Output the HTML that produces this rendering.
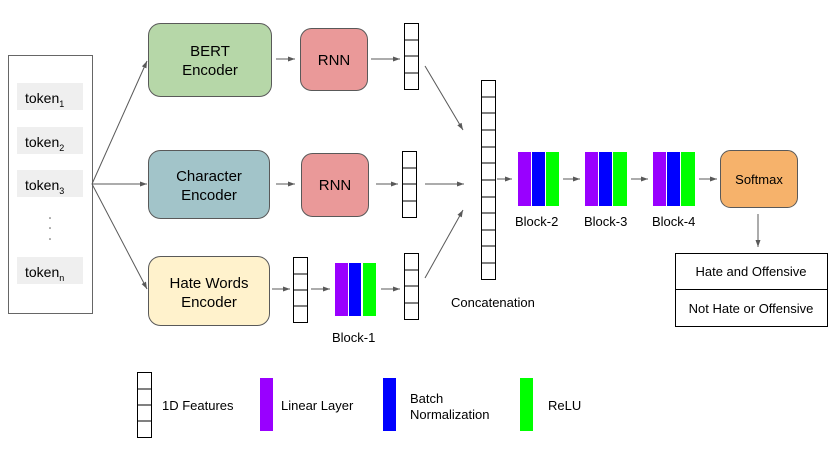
<!DOCTYPE html>
<html><head><meta charset="utf-8"><style>
html,body{margin:0;padding:0;background:#fff}
svg{display:block}
text{font-family:"Liberation Sans",Arial,sans-serif;fill:#000}
</style></head><body>
<svg width="830" height="467" viewBox="0 0 830 467" xmlns="http://www.w3.org/2000/svg">
<defs>
<marker id="a" markerWidth="8" markerHeight="8" refX="7" refY="4" orient="auto" markerUnits="userSpaceOnUse">
<path d="M0,1.5 L7,4 L0,6.5 z" fill="#595959"/></marker>
</defs>
<!-- token box -->
<rect x="8.5" y="55.5" width="84" height="258" fill="#fff" stroke="#666" stroke-width="1"/>
<g fill="#efefef">
<rect x="17" y="83" width="66" height="27"/><rect x="17" y="127" width="66" height="27"/>
<rect x="17" y="170" width="66" height="27"/><rect x="17" y="257" width="66" height="27"/></g>
<g font-size="14">
<text x="25" y="103">token<tspan font-size="9" dy="4">1</tspan></text>
<text x="25" y="147">token<tspan font-size="9" dy="4">2</tspan></text>
<text x="25" y="190">token<tspan font-size="9" dy="4">3</tspan></text>
<text x="25" y="277">token<tspan font-size="9" dy="4">n</tspan></text>
</g>
<g fill="#555"><circle cx="50" cy="218" r="0.8"/><circle cx="50" cy="228" r="0.8"/><circle cx="50" cy="239" r="0.8"/></g>
<!-- arrows from tokens -->
<g stroke="#595959" stroke-width="1" fill="none" marker-end="url(#a)">
<line x1="92" y1="184" x2="147" y2="61"/>
<line x1="92" y1="184" x2="147" y2="184"/>
<line x1="92" y1="184" x2="147" y2="289"/>
<line x1="276" y1="59" x2="295" y2="59"/>
<line x1="371" y1="59" x2="400" y2="59"/>
<line x1="276" y1="184" x2="295" y2="184"/>
<line x1="376" y1="184" x2="398" y2="184"/>
<line x1="272" y1="289" x2="290" y2="289"/>
<line x1="311" y1="289" x2="330" y2="289"/>
<line x1="381" y1="289" x2="400" y2="289"/>
<line x1="425" y1="66" x2="463" y2="130"/>
<line x1="425" y1="184" x2="464" y2="184"/>
<line x1="425" y1="278" x2="463" y2="210"/>
<line x1="497" y1="179" x2="512" y2="179"/>
<line x1="563" y1="179" x2="580" y2="179"/>
<line x1="631" y1="179" x2="648" y2="179"/>
<line x1="699" y1="179" x2="717" y2="179"/>
<line x1="758" y1="214" x2="758" y2="247"/>
</g>
<!-- encoders -->
<rect x="148.5" y="23.5" width="123" height="73" rx="12" fill="#b6d7a8" stroke="#595959"/>
<rect x="148.5" y="150.5" width="121" height="68" rx="12" fill="#a2c4c9" stroke="#595959"/>
<rect x="148.5" y="256.5" width="121" height="69" rx="12" fill="#fff2cc" stroke="#595959"/>
<g font-size="15" text-anchor="middle">
<text x="210" y="56">BERT</text><text x="210" y="75">Encoder</text>
<text x="209" y="181">Character</text><text x="209" y="200">Encoder</text>
<text x="209" y="288">Hate Words</text><text x="209" y="307">Encoder</text>
</g>
<rect x="300.5" y="28.5" width="67" height="62" rx="11" fill="#ea9999" stroke="#595959"/>
<rect x="301.5" y="153.5" width="67" height="63" rx="11" fill="#ea9999" stroke="#595959"/>
<g font-size="15" text-anchor="middle"><text x="334" y="65">RNN</text><text x="335" y="190">RNN</text></g>
<!-- vectors -->
<g fill="#fff" stroke="#000" stroke-width="1">
<rect x="404.5" y="23.5" width="14" height="66"/><path d="M404.5 40h14M404.5 56h14M404.5 73h14"/>
<rect x="402.5" y="151.5" width="14" height="66"/><path d="M402.5 168h14M402.5 184h14M402.5 201h14"/>
<rect x="293.5" y="257.5" width="14" height="65"/><path d="M293.5 274h14M293.5 290h14M293.5 306h14"/>
<rect x="404.5" y="253.5" width="14" height="66"/><path d="M404.5 270h14M404.5 286h14M404.5 303h14"/>
<rect x="481.5" y="80.5" width="14" height="199"/>
<path d="M481.5 97h14M481.5 113h14M481.5 130h14M481.5 147h14M481.5 163h14M481.5 180h14M481.5 197h14M481.5 213h14M481.5 230h14M481.5 246h14M481.5 263h14"/>
<rect x="137.5" y="372.5" width="14" height="65"/><path d="M137.5 389h14M137.5 405h14M137.5 421h14"/>
</g>
<!-- blocks -->
<g>
<rect x="335" y="263" width="13" height="53" fill="#9900ff"/><rect x="349" y="263" width="12" height="53" fill="#0000ff"/><rect x="363" y="263" width="13" height="53" fill="#00ff00"/>
<rect x="518" y="152" width="13" height="54" fill="#9900ff"/><rect x="532" y="152" width="13" height="54" fill="#0000ff"/><rect x="546" y="152" width="13" height="54" fill="#00ff00"/>
<rect x="585" y="152" width="13" height="54" fill="#9900ff"/><rect x="599" y="152" width="13" height="54" fill="#0000ff"/><rect x="613" y="152" width="14" height="54" fill="#00ff00"/>
<rect x="653" y="152" width="13" height="54" fill="#9900ff"/><rect x="667" y="152" width="13" height="54" fill="#0000ff"/><rect x="681" y="152" width="14" height="54" fill="#00ff00"/>
<rect x="260" y="378" width="13" height="53" fill="#9900ff"/>
<rect x="383" y="378" width="13" height="53" fill="#0000ff"/>
<rect x="520" y="378" width="13" height="53" fill="#00ff00"/>
</g>
<g font-size="13">
<text x="332" y="342">Block-1</text>
<text x="515" y="226">Block-2</text><text x="584" y="226">Block-3</text><text x="652" y="226">Block-4</text>
<text x="451" y="307">Concatenation</text>
<text x="162" y="410">1D Features</text>
<text x="281" y="410">Linear Layer</text>
<text x="410" y="403">Batch</text><text x="410" y="419">Normalization</text>
<text x="548" y="410">ReLU</text>
</g>
<!-- softmax -->
<rect x="720.5" y="150.5" width="77" height="57" rx="10" fill="#f6b26b" stroke="#595959"/>
<text x="759" y="184" font-size="13" text-anchor="middle">Softmax</text>
<rect x="675.5" y="253.5" width="152" height="73" fill="#fff" stroke="#000"/>
<line x1="675.5" y1="289.5" x2="827.5" y2="289.5" stroke="#000"/>
<g font-size="13" text-anchor="middle"><text x="751" y="276">Hate and Offensive</text><text x="751" y="313">Not Hate or Offensive</text></g>
</svg>
</body></html>
